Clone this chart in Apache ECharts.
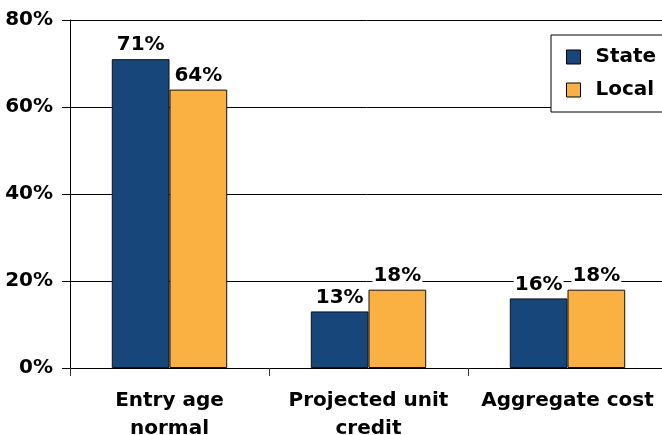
<!DOCTYPE html>
<html>
<head>
<meta charset="utf-8">
<script src="https://cdn.jsdelivr.net/npm/echarts@6/dist/echarts.min.js"></script>
<style>
  html, body { margin: 0; padding: 0; background: #fff; }
  #chart { width: 662px; height: 435px; }
</style>
</head>
<body>
<div id="chart"></div>
<script>
const categories = ['Entry age\nnormal', 'Projected unit\ncredit', 'Aggregate cost'];
const stateValues = [71, 13, 16];
const localValues = [64, 18, 18];
const yTicks = [0, 20, 40, 60, 80];

const chart = echarts.init(document.getElementById('chart'));
const font = '"DejaVu Sans", "Liberation Sans", sans-serif';

const labelStyle = {
  show: true,
  position: 'top',
  distance: 4,
  formatter: '{c}%',
  color: '#000',
  fontFamily: font,
  fontWeight: 'bold',
  fontSize: 20,
  backgroundColor: '#fff',
  padding: [0, 1, 0, 1]
};

chart.setOption({
  animation: false,
  textStyle: { fontFamily: font },
  grid: { left: 70, right: -5, top: 20, bottom: 67, outerBoundsMode: 'none' },
  legend: {
    orient: 'vertical',
    left: 551,
    top: 35,
    padding: [12, 60, 12, 15],
    icon: 'rect',
    itemWidth: 14,
    itemHeight: 14,
    itemGap: 13,
    borderColor: '#000',
    borderWidth: 1,
    backgroundColor: '#fff',
    itemStyle: { borderColor: '#000', borderWidth: 1 },
    textStyle: { color: '#000', fontSize: 20, fontWeight: 'bold', fontFamily: font, padding: [0, 0, 0, 10] },
    data: ['State', 'Local']
  },
  xAxis: {
    type: 'category',
    data: categories,
    axisLine: { lineStyle: { color: '#000', width: 1 } },
    axisTick: { show: true, length: 8, lineStyle: { color: '#333' } },
    axisLabel: {
      color: '#000', fontSize: 20, fontWeight: 'bold', fontFamily: font,
      margin: 19, lineHeight: 28, interval: 0
    }
  },
  yAxis: {
    type: 'value',
    min: yTicks[0],
    max: yTicks[yTicks.length - 1],
    interval: 20,
    axisLine: { show: true, lineStyle: { color: '#000', width: 1 } },
    axisTick: { show: true, length: 8, lineStyle: { color: '#000' } },
    splitLine: { show: true, lineStyle: { color: '#000', width: 1 } },
    axisLabel: {
      color: '#000', fontSize: 20, fontWeight: 'bold', fontFamily: font,
      margin: 17, formatter: '{value}%'
    }
  },
  series: [
    {
      name: 'State',
      type: 'bar',
      data: stateValues,
      barGap: '0%',
      barCategoryGap: '42%',
      itemStyle: { color: '#17467A', borderColor: '#111', borderWidth: 1 },
      label: labelStyle
    },
    {
      name: 'Local',
      type: 'bar',
      data: localValues,
      itemStyle: { color: '#FBB042', borderColor: '#111', borderWidth: 1 },
      label: labelStyle
    }
  ]
});
</script>
</body>
</html>
